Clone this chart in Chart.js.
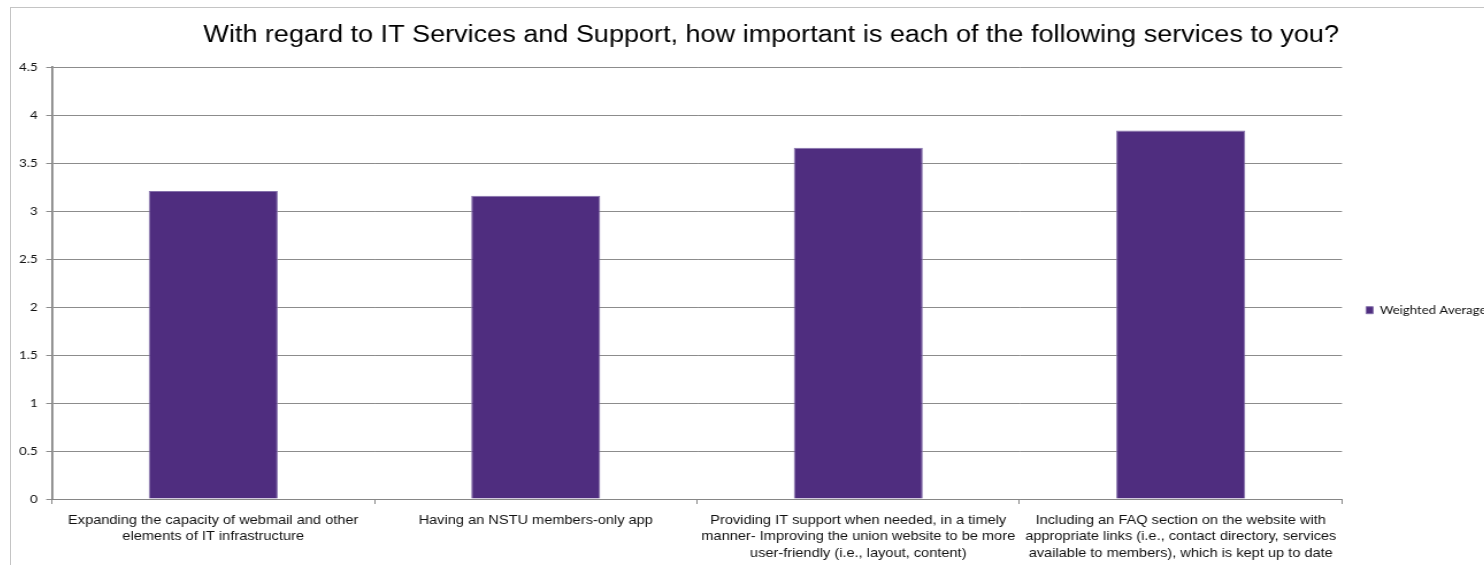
<!DOCTYPE html>
<html>
<head>
<meta charset="utf-8">
<script src="https://cdn.jsdelivr.net/npm/chart.js@4.4.0/dist/chart.umd.min.js"></script>
<style>
  html, body { margin: 0; padding: 0; background: #fff; overflow: hidden; width: 1484px; height: 565px; }
  #frame { position: absolute; left: 10px; top: 7px; width: 1600px; height: 600px;
           border-left: 1px solid #c4c4c4; border-top: 1px solid #c4c4c4; }
  /* the chart is drawn with a wide aspect: stretch it horizontally */
  #chart { display: block; transform: scaleX(1.15); transform-origin: 0 0; }
</style>
</head>
<body>
<div id="frame"><canvas id="chart" width="1322" height="570"></canvas></div>
<script>
// Survey question and answer options
const chartTitle = 'With regard to IT Services and Support, how important is each of the following services to you?';
const categories = [
  ['Expanding the capacity of webmail and other', 'elements of IT infrastructure'],
  'Having an NSTU members-only app',
  ['Providing IT support when needed, in a timely', 'manner- Improving the union website to be more', 'user-friendly (i.e., layout, content)'],
  ['Including an FAQ section on the website with', 'appropriate links (i.e., contact directory, services', 'available to members), which is kept up to date']
];

// Weighted average importance per service
const seriesName = 'Weighted Average';
const weightedAverage = [3.21, 3.16, 3.66, 3.84];

// Value axis range
const yMin = 0;
const yMax = 4.5;
const yStep = 0.5;

// Plot right edge (canvas units) and the legend that sits to its right
const canvasWidth = 1322;
const plotRight = 1157.4;
const legendFont = { family: 'Lato', size: 11.5 };
const legendBox = 6;
const legendPad = 21;
const probe = document.createElement('canvas').getContext('2d');
probe.font = legendFont.size + 'px ' + legendFont.family;
const legendWidth = legendPad + legendBox + legendFont.size / 2 + probe.measureText(seriesName).width + 10;
const rightPad = Math.max(0, canvasWidth - plotRight - legendWidth);

const textColor = '#111';
const axisColor = '#868686';

// Centre the title across the whole canvas, not only the padded area
const fullWidthTitle = {
  id: 'fullWidthTitle',
  afterLayout(chart) {
    const t = chart.titleBlock;
    if (t) { t.left = 0; t.right = chart.width; t.width = chart.width; }
  }
};

new Chart(document.getElementById('chart'), {
  type: 'bar',
  data: {
    labels: categories,
    datasets: [{
      label: seriesName,
      data: weightedAverage,
      backgroundColor: '#4f2d7f',
      borderColor: '#8470aa',
      borderWidth: 1,
      categoryPercentage: 0.8,
      barPercentage: 0.5
    }]
  },
  options: {
    responsive: false,
    animation: false,
    devicePixelRatio: 1,
    layout: { padding: { left: 0, right: rightPad, top: 0, bottom: 0 } },
    plugins: {
      title: {
        display: true,
        text: chartTitle,
        color: '#000',
        font: { family: 'Liberation Sans', size: 23.5, weight: 'normal' },
        padding: { top: 13, bottom: 18 }
      },
      legend: {
        position: 'right',
        align: 'center',
        title: { display: true, text: '', font: { size: 12 }, padding: { top: 0, bottom: 20 } },
        labels: {
          boxWidth: legendBox,
          boxHeight: 7,
          padding: legendPad,
          color: textColor,
          font: legendFont
        }
      },
      tooltip: { enabled: false }
    },
    scales: {
      x: {
        grid: { display: true, drawOnChartArea: false, drawTicks: true, tickLength: 5, color: axisColor, offset: true },
        border: { display: true, color: axisColor, width: 1 },
        ticks: {
          color: textColor,
          font: { family: 'Liberation Sans', size: 12.7, lineHeight: 1.3 },
          padding: 8,
          maxRotation: 0,
          autoSkip: false
        },
        afterFit: (scale) => { scale.height = 79; }
      },
      y: {
        min: yMin,
        max: yMax,
        ticks: {
          stepSize: yStep,
          color: textColor,
          font: { family: 'Lato', size: 11.5 },
          padding: 7.5,
          callback: (value) => String(Number(value.toFixed(2)))
        },
        grid: { color: '#8c8c8c', lineWidth: 1, tickLength: 5, drawTicks: true },
        border: { display: true, color: axisColor, width: 1.8 },
        afterFit: (scale) => { scale.width = 35.6; }
      }
    }
  },
  plugins: [fullWidthTitle]
});
</script>
</body>
</html>
